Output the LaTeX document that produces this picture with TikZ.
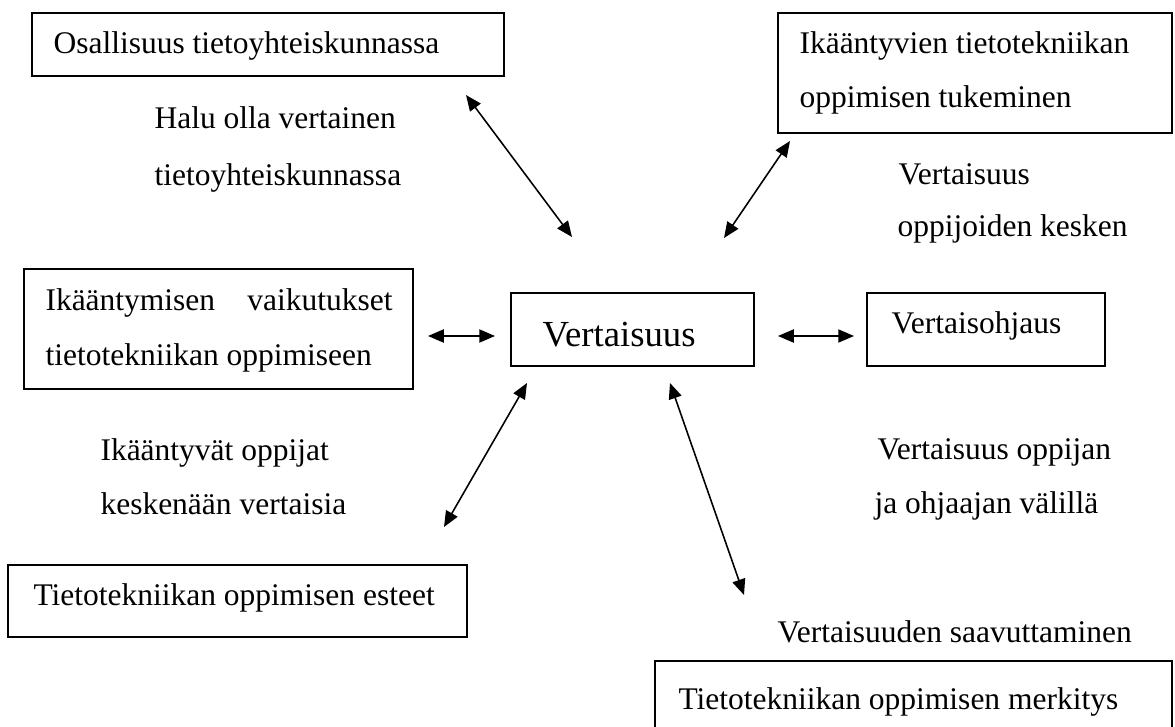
\documentclass[tikz,border=0pt]{standalone}
\usepackage{fontspec}
\setmainfont{Liberation Serif}
\usetikzlibrary{arrows.meta,fit}
\begin{document}
\begin{tikzpicture}[x=0.381pt,y=-0.381pt,
  box/.style={draw, line width=0.75pt, inner sep=0pt},
  txt/.style={anchor=base west, inner sep=0pt, font=\fontsize{12pt}{14pt}\selectfont},
  big/.style={anchor=base west, inner sep=0pt, font=\fontsize{14pt}{16pt}\selectfont},
  link/.style={{Triangle[length=6pt,width=5pt]}-{Triangle[length=6pt,width=5pt]}, line width=0.6pt}]
\useasboundingbox (0,0) rectangle (1175,727);
\clip (0,0) rectangle (1175,727);
% boxes
\node[box, fit={(32,13) (504,76)}] (b1) {};
\node[txt] (t1) at (53,53) {Osallisuus tietoyhteiskunnassa};
\node[box, fit={(778,13) (1172,133)}] (b2) {};
\node[txt] (t2a) at (799,53) {Ikääntyvien tietotekniikan};
\node[txt] (t2b) at (799,108) {oppimisen tukeminen};
\node[box, fit={(24,269) (413,389)}] (b3) {};
\node[txt] (t3a) at (45,310) {\makebox[132.2pt][s]{Ikääntymisen vaikutukset}};
\node[txt] (t3b) at (45,365) {tietotekniikan oppimiseen};
\node[box, fit={(511,293) (754,366)}] (c) {};
\node[big] (ct) at (542,346) {Vertaisuus};
\node[box, fit={(867,293) (1105,366)}] (b4) {};
\node[txt] (t4) at (891,333) {Vertaisohjaus};
\node[box, fit={(8,565) (467,637)}] (b5) {};
\node[txt] (t5) at (33,605) {Tietotekniikan oppimisen esteet};
\node[box, fit={(655,661) (1172,760)}] (b6) {};
\node[txt] (t6) at (678,709) {Tietotekniikan oppimisen merkitys};
% labels
\node[txt] (l1a) at (154,128) {Halu olla vertainen};
\node[txt] (l1b) at (154,185) {tietoyhteiskunnassa};
\node[txt] (l2a) at (898,184) {Vertaisuus};
\node[txt] (l2b) at (897,236) {oppijoiden kesken};
\node[txt] (l3a) at (100,460) {Ikääntyvät oppijat};
\node[txt] (l3b) at (100,514) {keskenään vertaisia};
\node[txt] (l4a) at (877,459) {Vertaisuus oppijan};
\node[txt] (l4b) at (874,513) {ja ohjaajan välillä};
\node[txt] (l5) at (777,642) {Vertaisuuden saavuttaminen};
% arrow end points
\coordinate (a1s) at (466,95);  \coordinate (a1e) at (572,237);
\coordinate (a2s) at (790,141); \coordinate (a2e) at (724,238);
\coordinate (a3s) at (428,336); \coordinate (a3e) at (495,336);
\coordinate (a4s) at (778,336); \coordinate (a4e) at (854,336);
\coordinate (a5s) at (527,383); \coordinate (a5e) at (444,527);
\coordinate (a6s) at (670,383); \coordinate (a6e) at (744,595);
\draw[link] (a1s) -- (a1e);
\draw[link] (a2s) -- (a2e);
\draw[link] (a3s) -- (a3e);
\draw[link] (a4s) -- (a4e);
\draw[link] (a5s) -- (a5e);
\draw[link] (a6s) -- (a6e);
\end{tikzpicture}
\end{document}
